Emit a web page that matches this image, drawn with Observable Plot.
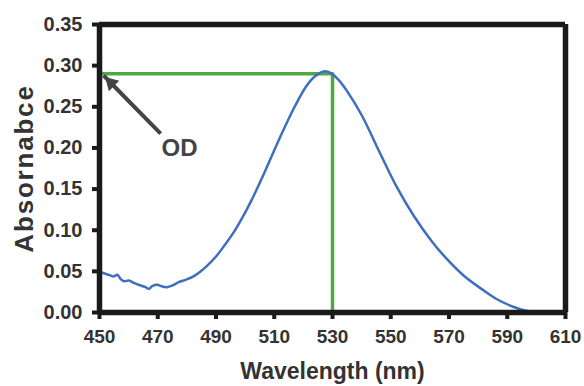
<!DOCTYPE html>
<html>
<head>
<meta charset="utf-8">
<script src="https://cdn.jsdelivr.net/npm/d3@7"></script>
<script src="https://cdn.jsdelivr.net/npm/@observablehq/plot@0.6"></script>
<style>
  html, body { margin: 0; padding: 0; background: #fff; }
  #chart svg { display: block; }
</style>
</head>
<body>
<div id="chart"></div>
<script>
// Absorbance spectrum
const wavelength = [450.3, 453.2, 454.9, 456.1, 457.2, 458.4, 460.1, 461.8, 464.1, 465.8, 466.9, 468.1, 469.8, 471.5, 473.2, 475, 477.2, 479.5, 481.8, 484, 487, 490, 493, 496, 499, 502, 507, 512, 517, 521, 524, 527, 529.5, 532, 535, 540, 546, 552, 558, 564, 569, 575, 581, 586, 592, 596, 600, 605, 610];
const absorbance = [0.049, 0.0458, 0.0437, 0.0458, 0.041, 0.038, 0.0389, 0.036, 0.0328, 0.0308, 0.0288, 0.032, 0.0336, 0.0316, 0.0308, 0.0328, 0.0368, 0.0397, 0.0429, 0.048, 0.057, 0.068, 0.082, 0.097, 0.115, 0.135, 0.173, 0.213, 0.250, 0.275, 0.287, 0.293, 0.291, 0.283, 0.269, 0.240, 0.196, 0.153, 0.117, 0.087, 0.066, 0.045, 0.029, 0.017, 0.007, 0.0025, 0.0005, 0, 0];

// OD guide lines (green)
const guideX = [450, 530, 530];
const guideY = [0.29, 0.29, 0];

// OD annotation
const odLabel = "OD";
const odLabelX = 477.5;
const odLabelY = 0.20;
const arrowFrom = [471, 0.2175];
const arrowTo = [451.4, 0.288];

// Axes
const xDomain = [450, 610];
const yDomain = [0, 0.35];
const xTicks = [450, 470, 490, 510, 530, 550, 570, 590, 610];
const yTicks = [0, 0.05, 0.10, 0.15, 0.20, 0.25, 0.30, 0.35];
const xTitle = "Wavelength (nm)";
const yTitle = "Absornabce";

const spectrum = wavelength.map((w, i) => ({w, a: absorbance[i]}));
const guide = guideX.map((w, i) => ({w, a: guideY[i]}));

const chart = Plot.plot({
  width: 584,
  height: 386,
  marginLeft: 99,
  marginRight: 19,
  marginTop: 24,
  marginBottom: 74,
  style: {fontFamily: "'Liberation Sans', Arial, sans-serif", fontWeight: "bold", fontSize: "20px", color: "#333", background: "#fff"},
  x: {domain: xDomain},
  y: {domain: yDomain},
  marks: [
    Plot.line(guide, {x: "w", y: "a", stroke: "#4fa843", strokeWidth: 3.5}),
    Plot.line(spectrum, {x: "w", y: "a", stroke: "#3d6fc0", strokeWidth: 2.5, curve: "catmull-rom"}),
    Plot.link([{x1: arrowFrom[0], y1: arrowFrom[1], x2: arrowTo[0], y2: arrowTo[1]}], {x1: "x1", y1: "y1", x2: "x2", y2: "y2", stroke: "#444", strokeWidth: 4}),
    Plot.dot([arrowTo], {x: d => d[0], y: d => d[1], symbol: "triangle2", r: 7, rotate: -45, dx: 7.5, dy: 7.5, fill: "#444", stroke: "none"}),
    Plot.text([odLabel], {x: odLabelX, y: odLabelY, text: d => d, fontSize: 24, fontWeight: "bold", fill: "#444"}),
    Plot.ruleX(xDomain, {stroke: "#1a1a1a", strokeWidth: 5.5}),
    Plot.ruleY(yDomain, {stroke: "#1a1a1a", strokeWidth: 5.5}),
    Plot.axisX({ticks: xTicks, tickSize: 7, tickPadding: 10, strokeWidth: 4, stroke: "#1a1a1a", tickFormat: d3.format("d"), label: null, fontSize: 19, fill: "#333"}),
    Plot.axisY({ticks: yTicks, tickSize: 7, tickPadding: 10, strokeWidth: 4, stroke: "#1a1a1a", tickFormat: d3.format(".2f"), label: null, fontSize: 20, fill: "#333"}),
    Plot.text([xTitle], {frameAnchor: "bottom", text: d => d, lineAnchor: "top", dy: 50, fontSize: 23, fontWeight: "bold", fill: "#333"}),
    Plot.text([yTitle], {frameAnchor: "left", text: d => d, textAnchor: "middle", dx: -75, rotate: -90, fontSize: 26, fontWeight: "bold", fill: "#333"})
  ]
});
document.getElementById("chart").appendChild(chart);
// stretch the y title a little, as in the reference
d3.select(chart).selectAll("text").filter(function() { return this.textContent === yTitle; })
  .style("letter-spacing", "1.8px");
d3.select(chart).selectAll('[aria-label$="tick"] path').style("stroke-width", "4px");
</script>
</body>
</html>
